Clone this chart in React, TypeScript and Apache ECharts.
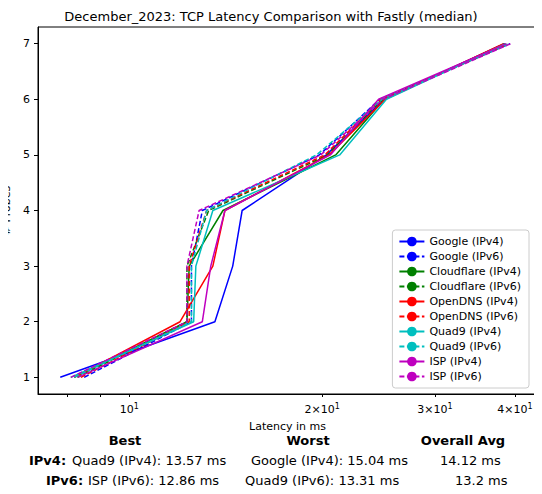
import React, { useEffect, useRef } from "react";
import * as echarts from "echarts";

const probes = [1, 2, 3, 4, 5, 6, 7];
const seriesNames = [
  "Google (IPv4)", "Google (IPv6)", "Cloudflare (IPv4)", "Cloudflare (IPv6)",
  "OpenDNS (IPv4)", "OpenDNS (IPv6)", "Quad9 (IPv4)", "Quad9 (IPv6)", "ISP (IPv4)", "ISP (IPv6)",
];
const googleV4 = [7.8, 13.6, 14.5, 15.0, 20.3, 25.0, 38.5];
const googleV6 = [8.5, 12.5, 12.5, 13.0, 19.8, 24.6, 39.3];
const cloudflareV4 = [8.2, 12.3, 12.4, 14.0, 21.0, 25.0, 38.6];
const cloudflareV6 = [8.3, 12.3, 12.3, 13.3, 20.4, 24.8, 39.0];
const openDnsV4 = [8.2, 12.0, 13.5, 14.1, 20.5, 25.1, 38.4];
const openDnsV6 = [8.4, 12.4, 12.4, 13.2, 20.2, 24.7, 39.1];
const quad9V4 = [8.1, 12.6, 12.7, 13.5, 21.3, 25.2, 38.7];
const quad9V6 = [8.2, 12.5, 12.5, 13.2, 19.6, 24.8, 39.2];
const ispV4 = [8.3, 13.0, 13.4, 14.1, 20.6, 24.5, 38.8];
const ispV6 = [8.1, 12.3, 12.3, 12.85, 19.9, 24.9, 39.4];
const seriesValues = [googleV4, googleV6, cloudflareV4, cloudflareV6, openDnsV4, openDnsV6, quad9V4, quad9V6, ispV4, ispV6];
const seriesColors = ["#0000ff", "#0000ff", "#008000", "#008000", "#ff0000", "#ff0000", "#00bfbf", "#00bfbf", "#bf00bf", "#bf00bf"];
const xTickValues = [10, 20, 30, 40];
const xMinorValues = [8, 9, 10, 20, 30, 40];
const yTicks = [1, 2, 3, 4, 5, 6, 7];

const FONT = "DejaVu Sans";

export default function App() {
  const ref = useRef<HTMLDivElement>(null);
  useEffect(() => {
    const chart = echarts.init(ref.current!, null, { renderer: "svg" });
    const txt = (x: number, y: number, t: string, bold = false, align = "left") => ({
      type: "text", x, y,
      style: { text: t, font: `${bold ? "bold " : ""}13px ${FONT}`, fill: "#000", textAlign: align, textVerticalAlign: "middle" },
    });
    chart.setOption({
      animation: false,
      title: {
        text: "December_2023: TCP Latency Comparison with Fastly (median)",
        left: "center", top: 5,
        textStyle: { fontFamily: FONT, fontSize: 13, fontWeight: "normal", color: "#000" },
      },
      grid: {
        left: 38, right: 5, top: 27, bottom: 100, containLabel: false, outerBoundsMode: "none",
        show: true, borderColor: "#000", borderWidth: 1, backgroundColor: "transparent",
      },
      xAxis: {
        type: "log", logBase: 10, min: 7.2, max: 43.3,
        name: "Latency in ms", nameLocation: "middle", nameGap: 27,
        nameTextStyle: { fontFamily: FONT, fontSize: 11, color: "#000" },
        axisLine: { onZero: false, lineStyle: { color: "#000" } },
        axisTick: { show: true, customValues: xMinorValues, length: 3, lineStyle: { color: "#000" } },
        axisLabel: {
          customValues: xTickValues, color: "#000", fontFamily: FONT, fontSize: 11,
          formatter: (v: number) => {
            const m = Math.round(v / 10);
            return m === 1 ? "{b|10}{s|1}" : `{b|${m}×10}{s|1}`;
          },
          rich: {
            b: { fontFamily: FONT, fontSize: 11, color: "#000" },
            s: { fontFamily: FONT, fontSize: 8, color: "#000", verticalAlign: "top", padding: [0, 0, 6, 0] },
          },
        },
        splitLine: { show: false },
      },
      yAxis: {
        type: "value", min: 0.7, max: 7.3,
        name: "# Probes", nameLocation: "middle", nameGap: 24,
        nameTextStyle: { fontFamily: FONT, fontSize: 11, color: "#000" },
        axisLine: { show: true, lineStyle: { color: "#000" } },
        axisTick: { show: true, customValues: yTicks, length: 4, lineStyle: { color: "#000" } },
        axisLabel: { customValues: yTicks, color: "#000", fontFamily: FONT, fontSize: 11 },
        splitLine: { show: false },
      },
      legend: {
        orient: "vertical", right: 13, bottom: 106,
        itemWidth: 25, itemHeight: 12, itemGap: 4,
        backgroundColor: "#fff", borderColor: "#ccc", borderWidth: 1, borderRadius: 3,
        padding: [6, 8, 6, 6],
        textStyle: { fontFamily: FONT, fontSize: 11, color: "#000" },
        data: seriesNames,
      },
      series: seriesNames.map((n, i) => ({
        name: n, type: "line", showSymbol: false, symbol: "none",
        color: seriesColors[i],
        lineStyle: { width: 1.5, type: i % 2 === 1 ? [5, 2.5] : "solid", color: seriesColors[i] },
        data: seriesValues[i].map((x, j) => [x, probes[j]]),
      })),
      graphic: [
        txt(125, 440, "Best", true, "center"),
        txt(308, 440, "Worst", true, "center"),
        txt(463, 440, "Overall Avg", true, "center"),
        txt(29, 460, "IPv4:", true),
        txt(72, 460, "Quad9 (IPv4): 13.57 ms"),
        txt(251, 460, "Google (IPv4): 15.04 ms"),
        txt(440, 460, "14.12 ms"),
        txt(46, 480, "IPv6:", true),
        txt(88, 480, "ISP (IPv6): 12.86 ms"),
        txt(245, 480, "Quad9 (IPv6): 13.31 ms"),
        txt(455, 480, "13.2 ms"),
      ],
    });
    return () => chart.dispose();
  }, []);
  return <div ref={ref} style={{ width: 542, height: 494, margin: -8 }} />;
}
